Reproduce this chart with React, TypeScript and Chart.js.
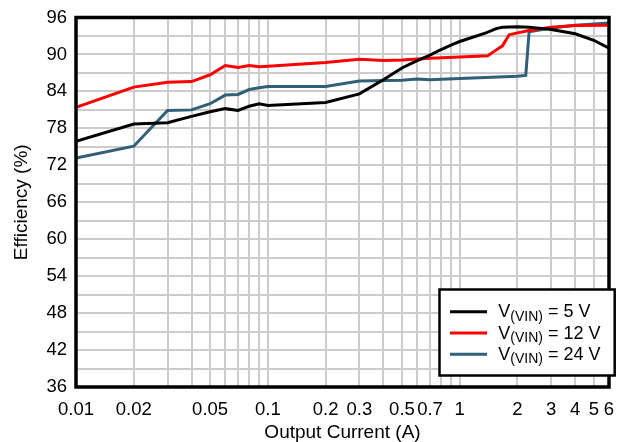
import { useEffect, useRef } from "react";
import { Chart, registerables } from "chart.js";

Chart.register(...registerables);

// ---- Data ----
const current5V = [0.01, 0.02, 0.03, 0.04, 0.05, 0.06, 0.07, 0.08, 0.09, 0.1, 0.2, 0.3, 0.4, 0.5, 0.6, 0.7, 0.8, 0.9, 1.0, 1.37, 1.55, 1.67, 2, 2.3, 3, 4, 5, 6];
const eff5V = [75.9, 78.7, 78.9, 79.95, 80.7, 81.2, 80.9, 81.6, 82.0, 81.7, 82.2, 83.6, 85.9, 87.8, 89.0, 89.9, 90.8, 91.5, 92.1, 93.5, 94.2, 94.4, 94.5, 94.4, 94.05, 93.35, 92.3, 91.0];

const current12V = [0.01, 0.02, 0.03, 0.04, 0.05, 0.06, 0.07, 0.08, 0.09, 0.1, 0.2, 0.3, 0.4, 0.5, 0.7, 1.0, 1.4, 1.51, 1.67, 1.81, 2, 2.3, 3, 4, 6];
const eff12V = [81.4, 84.7, 85.5, 85.6, 86.7, 88.2, 87.9, 88.2, 88.0, 88.1, 88.7, 89.2, 89.0, 89.1, 89.4, 89.6, 89.8, 90.5, 91.4, 93.2, 93.5, 93.9, 94.4, 94.7, 94.75];

const current24V = [0.01, 0.02, 0.03, 0.04, 0.05, 0.06, 0.07, 0.08, 0.09, 0.1, 0.2, 0.3, 0.5, 0.6, 0.7, 1.0, 2, 2.21, 2.3, 3, 4, 6];
const eff24V = [73.2, 75.1, 80.9, 81.0, 82.0, 83.4, 83.5, 84.3, 84.6, 84.8, 84.8, 85.7, 85.8, 86.0, 85.9, 86.1, 86.45, 86.6, 93.7, 94.3, 94.75, 95.1];

const seriesVoltages = ["5 V", "12 V", "24 V"];
const seriesColors = ["#000000", "#ff0000", "#2f6078"];

const xGridValues = [0.01, 0.02, 0.03, 0.04, 0.05, 0.06, 0.07, 0.08, 0.09, 0.1, 0.2, 0.3, 0.4, 0.5, 0.6, 0.7, 0.8, 0.9, 1, 2, 3, 4, 5, 6];
const xLabelValues = [0.01, 0.02, 0.05, 0.1, 0.2, 0.3, 0.5, 0.7, 1, 2, 3, 4, 5, 6];
const yGridValues = [36, 39, 42, 45, 48, 51, 54, 57, 60, 63, 66, 69, 72, 75, 78, 81, 84, 87, 90, 93, 96];
const yLabelValues = [36, 42, 48, 54, 60, 66, 72, 78, 84, 90, 96];

const FONT = "'Liberation Sans', Arial, Helvetica, sans-serif";

const toPoints = (xs: number[], ys: number[]) => xs.map((x, i) => ({ x, y: ys[i] }));

const frameAndLegend = {
  id: "frameAndLegend",
  afterDraw(chart: any) {
    const { ctx, chartArea } = chart;
    const { left, top, right, bottom } = chartArea;
    ctx.save();
    // plot frame
    ctx.strokeStyle = "#000";
    ctx.lineWidth = 3.5;
    ctx.strokeRect(left, top, right - left, bottom - top);

    // legend box
    const bL = right - 169.5;
    const bR = right + 5.7;
    const bT = bottom - 97.5;
    const bB = bottom - 11.5;
    ctx.fillStyle = "#ffffff";
    ctx.fillRect(bL, bT, bR - bL, bB - bT);
    ctx.lineWidth = 2.5;
    ctx.strokeStyle = "#000";
    ctx.strokeRect(bL, bT, bR - bL, bB - bT);

    chart.data.datasets.forEach((ds: any, i: number) => {
      const ly = bT + 22.3 + i * 21.2;
      ctx.strokeStyle = ds.borderColor;
      ctx.lineWidth = 3;
      ctx.beginPath();
      ctx.moveTo(bL + 10.5, ly);
      ctx.lineTo(bL + 47.5, ly);
      ctx.stroke();

      const base = ly + 5.6;
      let x = bL + 58.8;
      ctx.fillStyle = "#000";
      ctx.textBaseline = "alphabetic";
      ctx.textAlign = "left";
      ctx.font = `18px ${FONT}`;
      ctx.fillText("V", x, base);
      x += ctx.measureText("V").width;
      ctx.font = `14px ${FONT}`;
      ctx.fillText("(VIN)", x, base + 3.4);
      x += ctx.measureText("(VIN)").width;
      ctx.font = `18px ${FONT}`;
      ctx.fillText(" = " + seriesVoltages[i], x, base);
    });
    ctx.restore();
  },
};

export default function App() {
  const canvasRef = useRef<HTMLCanvasElement | null>(null);

  useEffect(() => {
    document.body.style.margin = "0";
    const canvas = canvasRef.current;
    if (!canvas) return;

    const chart = new Chart(canvas, {
      type: "line",
      data: {
        datasets: [
          { label: "V(VIN) = " + seriesVoltages[0], data: toPoints(current5V, eff5V), borderColor: seriesColors[0] },
          { label: "V(VIN) = " + seriesVoltages[1], data: toPoints(current12V, eff12V), borderColor: seriesColors[1] },
          { label: "V(VIN) = " + seriesVoltages[2], data: toPoints(current24V, eff24V), borderColor: seriesColors[2] },
        ].map((d) => ({ ...d, borderWidth: 3, pointRadius: 0, tension: 0, fill: false })),
      },
      options: {
        animation: false,
        responsive: false,
        events: [],
        layout: { padding: { top: 17.5, right: 8, left: 0, bottom: 0 } },
        plugins: { legend: { display: false }, tooltip: { enabled: false } },
        scales: {
          x: {
            type: "logarithmic",
            min: 0.01,
            max: 6,
            border: { display: false },
            grid: { color: "#cccccc", lineWidth: 2, drawTicks: false },
            afterBuildTicks: (scale: any) => {
              scale.ticks = xGridValues.map((v) => ({ value: v }));
            },
            afterFit: (scale: any) => {
              scale.height = 55;
              scale.paddingLeft = 0;
              scale.paddingRight = 0;
            },
            ticks: {
              autoSkip: false,
              maxRotation: 0,
              minRotation: 0,
              padding: 12,
              color: "#000",
              font: { family: FONT, size: 18.5 },
              callback: (value: any) => (xLabelValues.includes(Number(value)) ? String(value) : ""),
            },
            title: {
              display: true,
              text: "Output Current (A)",
              color: "#000",
              font: { family: FONT, size: 19, lineHeight: 1 },
              padding: { top: 0, bottom: 0 },
            },
          },
          y: {
            type: "linear",
            min: 36,
            max: 96,
            border: { display: false },
            grid: { color: "#cccccc", lineWidth: 2, drawTicks: false },
            afterBuildTicks: (scale: any) => {
              scale.ticks = yGridValues.map((v) => ({ value: v }));
            },
            afterFit: (scale: any) => {
              scale.width = 76;
              scale.paddingTop = 0;
              scale.paddingBottom = 0;
            },
            ticks: {
              autoSkip: false,
              padding: 9,
              color: "#000",
              font: { family: FONT, size: 18.5 },
              callback: (value: any) => (yLabelValues.includes(Number(value)) ? String(value) : ""),
            },
            title: {
              display: true,
              text: "Efficiency (%)",
              color: "#000",
              font: { family: FONT, size: 19, lineHeight: 1 },
              padding: { top: 12, bottom: 0 },
            },
          },
        },
      },
      plugins: [frameAndLegend],
    } as any);

    return () => chart.destroy();
  }, []);

  return (
    <div style={{ position: "absolute", left: 0, top: 0, width: 617, height: 442, background: "#fff" }}>
      <canvas ref={canvasRef} width={617} height={442} style={{ display: "block" }} />
    </div>
  );
}
